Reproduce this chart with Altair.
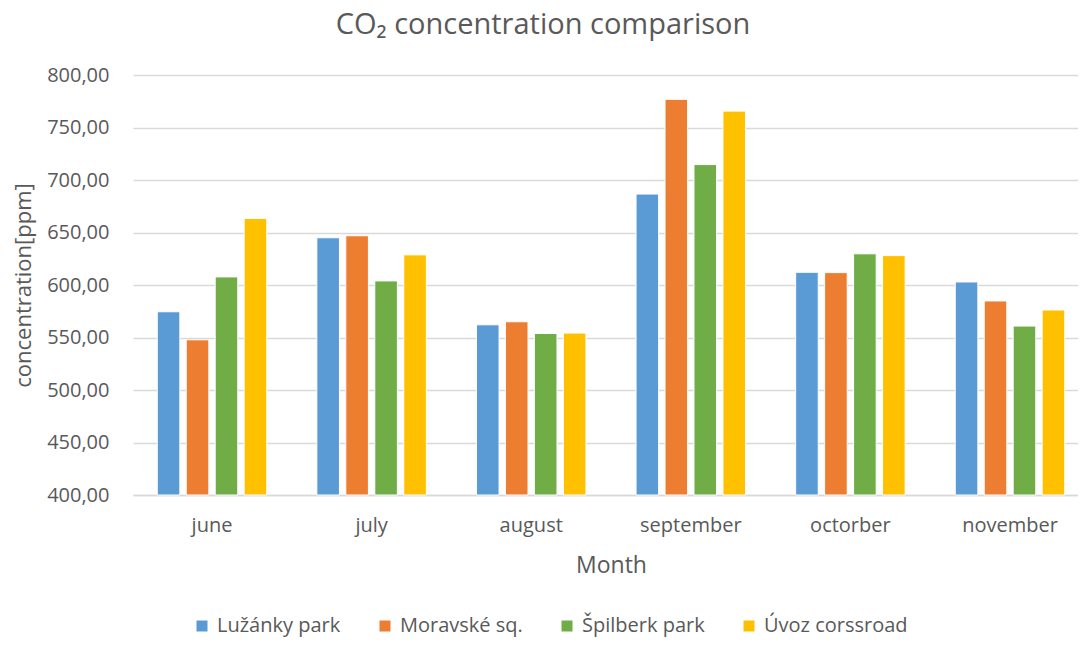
import altair as alt
import pandas as pd

months = ["june", "july", "august", "september", "octorber", "november"]
series = ["Lužánky park", "Moravské sq.", "Špilberk park", "Úvoz corssroad"]
colors = ["#5B9BD5", "#ED7D31", "#70AD47", "#FFC000"]

luzanky = [574.5, 645.0, 562.1, 686.6, 612.1, 602.9]
moravske = [547.8, 646.9, 565.0, 776.8, 611.8, 584.8]
spilberk = [607.7, 603.9, 553.8, 714.7, 629.7, 560.9]
uvoz = [663.4, 628.7, 554.2, 765.6, 628.0, 576.2]

y_ticks = [400, 450, 500, 550, 600, 650, 700, 750, 800]

rows = []
for name, vals in zip(series, [luzanky, moravske, spilberk, uvoz]):
    for m, v in zip(months, vals):
        rows.append({"Month": m, "Location": name, "Value": v})
df = pd.DataFrame(rows)

FONT = "Open Sans"
GRAY = "#595959"

chart = alt.Chart(df).mark_bar(stroke="white", strokeWidth=1).encode(
    x=alt.X(
        "Month:N",
        sort=months,
        scale=alt.Scale(range=[0, 956], paddingInner=0.314, paddingOuter=0.152),
        axis=alt.Axis(
            title="Month", labelAngle=0, labelFontSize=20, titleFontSize=23,
            labelPadding=20, titlePadding=19, ticks=False,
            domainColor="#d9d9d9", domainWidth=1.5,
            labelColor=GRAY, titleColor=GRAY, labelFont=FONT, titleFont=FONT,
            titleFontWeight="normal",
        ),
    ),
    xOffset=alt.XOffset("Location:N", sort=series,
                        scale=alt.Scale(paddingInner=0.22, paddingOuter=0)),
    y=alt.Y(
        "Value:Q",
        scale=alt.Scale(domain=[400, 800], nice=False, zero=False),
        axis=alt.Axis(
            title="concentration[ppm]", values=y_ticks,
            labelExpr="replace(format(datum.value, '.2f'), '.', ',')",
            labelFontSize=20, titleFontSize=22, labelPadding=24, titlePadding=11,
            ticks=False, domain=False, gridColor="#d9d9d9", gridWidth=1.5,
            labelColor=GRAY, titleColor=GRAY, labelFont=FONT, titleFont=FONT,
            titleFontWeight="normal",
        ),
    ),
    y2=alt.datum(400),
    color=alt.Color(
        "Location:N",
        scale=alt.Scale(domain=series, range=colors),
        legend=alt.Legend(
            title=None, orient="none", legendX=59, legendY=541,
            direction="horizontal", columnPadding=34, symbolType="square",
            symbolSize=121, symbolStrokeWidth=0, labelFontSize=20, labelFont=FONT,
            labelColor=GRAY, labelOffset=5, labelLimit=300,
        ),
    ),
).properties(
    width=942,
    height=420,
    title=alt.TitleParams(
        text="CO₂ concentration comparison", fontSize=29, font=FONT, color=GRAY,
        fontWeight="normal", anchor="middle", dx=-61, offset=25,
    ),
    autosize=alt.AutoSizeParams(type="none"),
    padding={"left": 125, "top": 67, "right": 3, "bottom": 145},
).configure_view(stroke=None)

chart.save("out.html", embed_options={"renderer": "svg", "actions": False})
